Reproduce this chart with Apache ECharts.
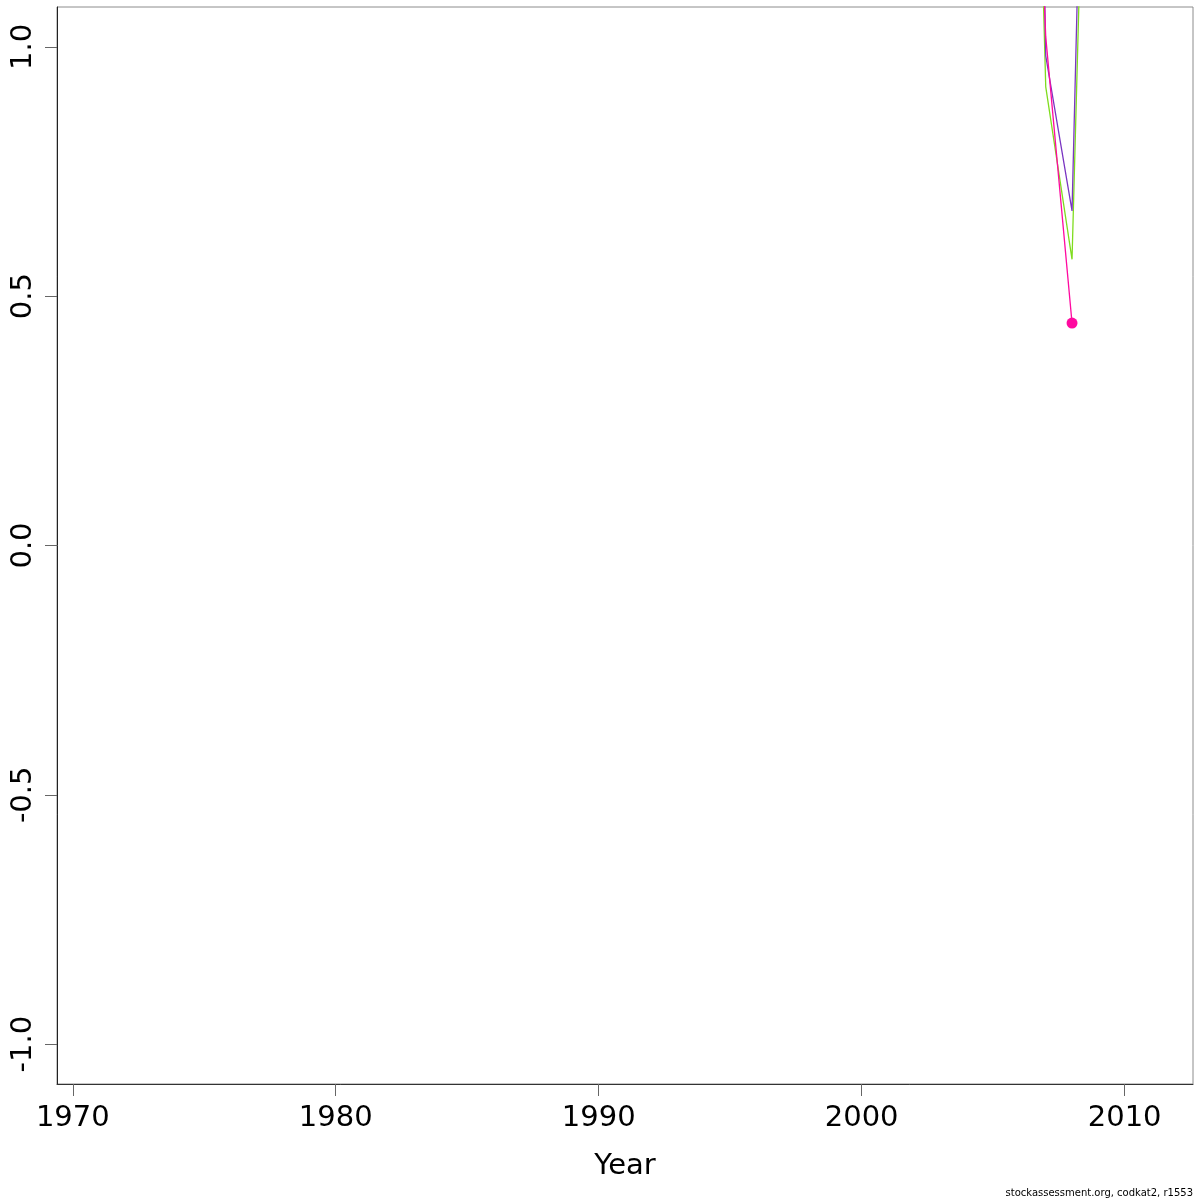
<!DOCTYPE html>
<html>
<head>
<meta charset="utf-8">
<script src="https://cdn.jsdelivr.net/npm/echarts@6/dist/echarts.min.js"></script>
<style>
html,body{margin:0;padding:0;background:#fff;}
#chart{width:1200px;height:1200px;}
</style>
</head>
<body>
<div id="chart"></div>
<script>
// Data (values beyond the plot top are estimated from line slopes)
const xTicks = [1970, 1980, 1990, 2000, 2010];
const yTicks = [-1.0, -0.5, 0.0, 0.5, 1.0];
const greenYears = [2006, 2007, 2008, 2009];
const greenVals = [2.86, 0.92, 0.574, 2.54];
const purpleYears = [2006, 2007, 2008, 2009];
const purpleVals = [3.9, 0.982, 0.671, 2.83];
const magentaYears = [2006, 2007, 2008];
const magentaVals = [2.38, 1.02, 0.446];
const footer = 'stockassessment.org, codkat2, r1553';

const zip = (xs, ys) => xs.map((x, i) => [x, ys[i]]);
const font = 'DejaVu Sans';

const chart = echarts.init(document.getElementById('chart'), null, {renderer: 'canvas'});
chart.setOption({
  backgroundColor: '#ffffff',
  animation: false,
  grid: {left: 57, right: 7, top: 7, bottom: 116, show: true, borderColor: '#8c8c8c', borderWidth: 1, backgroundColor: 'transparent'},
  graphic: [{
    type: 'text', right: 7, bottom: 2,
    style: {text: footer, fontFamily: font, fontSize: 10, fill: '#000'}
  }],
  xAxis: {
    type: 'value', min: 1969.4, max: 2012.6,
    name: 'Year', nameLocation: 'middle', nameGap: 68,
    nameTextStyle: {fontFamily: font, fontSize: 29, color: '#000'},
    splitLine: {show: false},
    axisLine: {show: true, onZero: false, lineStyle: {color: '#333', width: 1}},
    axisTick: {show: true, length: 12, customValues: xTicks, lineStyle: {color: '#666'}},
    axisLabel: {customValues: xTicks, margin: 20, fontFamily: font, fontSize: 29, color: '#000',
      formatter: v => String(v)}
  },
  yAxis: {
    type: 'value', min: -1.08, max: 1.08,
    splitLine: {show: false},
    axisLine: {show: true, onZero: false, lineStyle: {color: '#222', width: 1}},
    axisTick: {show: true, length: 12, customValues: yTicks, lineStyle: {color: '#666'}},
    axisLabel: {customValues: yTicks, rotate: 90, margin: 19, fontFamily: font, fontSize: 29, color: '#000',
      formatter: v => v.toFixed(1)}
  },
  series: [
    {type: 'line', data: zip(greenYears, greenVals), symbol: 'none', clip: true,
      lineStyle: {color: '#7fdc1e', width: 1.3}},
    {type: 'line', data: zip(purpleYears, purpleVals), symbol: 'none', clip: true,
      lineStyle: {color: '#7a35c2', width: 1.3}},
    {type: 'line', data: zip(magentaYears, magentaVals), symbol: 'none', clip: true,
      lineStyle: {color: '#ff0aa0', width: 1.3}},
    {type: 'scatter', data: [[magentaYears[magentaYears.length - 1], magentaVals[magentaVals.length - 1]]],
      symbol: 'circle', symbolSize: 11, itemStyle: {color: '#ff0aa0', opacity: 1}, clip: true}
  ]
});
</script>
</body>
</html>
